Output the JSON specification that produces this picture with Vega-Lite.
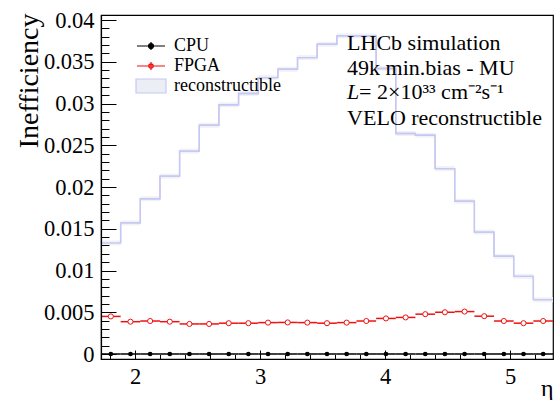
{
  "$schema": "https://vega.github.io/schema/vega-lite/v6.json",
  "width": 452,
  "height": 344,
  "autosize": {"type": "none"},
  "padding": {"left": 101, "top": 15, "right": 1, "bottom": 41},
  "background": "white",
  "config": {
    "view": {"stroke": "black", "strokeWidth": 1.2},
    "font": "Liberation Serif",
    "axis": {"labelFont": "Liberation Serif", "titleFont": "Liberation Serif", "labelColor": "black", "titleColor": "black", "titleFontWeight": "normal"},
    "legend": {"labelFont": "Liberation Serif"},
    "text": {"font": "Liberation Serif"}
  },
  "data": {"values": [
    {"lo": 1.726, "hi": 1.8833, "eta": 1.8047, "reco": 0.0133, "CPU": 0, "FPGA": 0.0045},
    {"lo": 1.8833, "hi": 2.0406, "eta": 1.962, "reco": 0.0157, "CPU": 0, "FPGA": 0.00387},
    {"lo": 2.0406, "hi": 2.1979, "eta": 2.1193, "reco": 0.0186, "CPU": 0, "FPGA": 0.00395},
    {"lo": 2.1979, "hi": 2.3552, "eta": 2.2766, "reco": 0.0213, "CPU": 0, "FPGA": 0.00387},
    {"lo": 2.3552, "hi": 2.5125, "eta": 2.4339, "reco": 0.0243, "CPU": 0, "FPGA": 0.0036},
    {"lo": 2.5125, "hi": 2.6698, "eta": 2.5912, "reco": 0.0274, "CPU": 0, "FPGA": 0.0036},
    {"lo": 2.6698, "hi": 2.8271, "eta": 2.7485, "reco": 0.02985, "CPU": 0, "FPGA": 0.00369},
    {"lo": 2.8271, "hi": 2.9844, "eta": 2.9058, "reco": 0.0312, "CPU": 0, "FPGA": 0.00369},
    {"lo": 2.9844, "hi": 3.1417, "eta": 3.0631, "reco": 0.0331, "CPU": 0, "FPGA": 0.00376},
    {"lo": 3.1417, "hi": 3.299, "eta": 3.2204, "reco": 0.0341, "CPU": 0, "FPGA": 0.00378},
    {"lo": 3.299, "hi": 3.4563, "eta": 3.3777, "reco": 0.0355, "CPU": 0, "FPGA": 0.00376},
    {"lo": 3.4563, "hi": 3.6136, "eta": 3.535, "reco": 0.0371, "CPU": 0, "FPGA": 0.00369},
    {"lo": 3.6136, "hi": 3.7709, "eta": 3.6923, "reco": 0.0381, "CPU": 0, "FPGA": 0.00376},
    {"lo": 3.7709, "hi": 3.9282, "eta": 3.8496, "reco": 0.0381, "CPU": 0, "FPGA": 0.00395},
    {"lo": 3.9282, "hi": 4.0855, "eta": 4.0069, "reco": 0.0342, "CPU": 0, "FPGA": 0.00426},
    {"lo": 4.0855, "hi": 4.2428, "eta": 4.1642, "reco": 0.0264, "CPU": 0, "FPGA": 0.00438},
    {"lo": 4.2428, "hi": 4.4001, "eta": 4.3215, "reco": 0.0262, "CPU": 0, "FPGA": 0.00477},
    {"lo": 4.4001, "hi": 4.5574, "eta": 4.4788, "reco": 0.0222, "CPU": 0, "FPGA": 0.005},
    {"lo": 4.5574, "hi": 4.7147, "eta": 4.6361, "reco": 0.0183, "CPU": 0, "FPGA": 0.00508},
    {"lo": 4.7147, "hi": 4.872, "eta": 4.7934, "reco": 0.0146, "CPU": 0, "FPGA": 0.00453},
    {"lo": 4.872, "hi": 5.0293, "eta": 4.9507, "reco": 0.0117, "CPU": 0, "FPGA": 0.00395},
    {"lo": 5.0293, "hi": 5.1866, "eta": 5.108, "reco": 0.0093, "CPU": 0, "FPGA": 0.00369},
    {"lo": 5.1866, "hi": 5.3439, "eta": 5.2653, "reco": 0.0065, "CPU": 0, "FPGA": 0.00395}
  ]},
  "resolve": {"axis": {"x": "independent", "y": "independent"}},
  "layer": [
    {
      "mark": {"type": "bar", "fill": "#f1f2f8", "strokeWidth": 0},
      "encoding": {
        "x": {"field": "lo", "type": "quantitative",
          "scale": {"domain": [1.726, 5.344], "nice": false, "zero": false},
          "axis": {"orient": "bottom", "values": [2, 3, 4, 5], "format": "d", "ticks": false, "domain": false, "grid": false,
            "labelFont": "Liberation Serif", "labelFontSize": 22.5, "labelColor": "black", "labelPadding": 6,
            "labelFlush": false, "labelOverlap": false, "labelBound": false,
            "title": "η", "titleFont": "Liberation Serif", "titleFontSize": 24, "titleFontWeight": "normal", "titleColor": "black",
            "titleAlign": "right", "titleBaseline": "alphabetic", "titleX": 452, "titleY": 36, "zindex": 1}},
        "x2": {"field": "hi"},
        "y": {"field": "reco", "type": "quantitative",
          "scale": {"domain": [0, 0.04], "nice": false, "zero": true},
          "axis": {"orient": "left", "values": [0, 0.005, 0.01, 0.015, 0.02, 0.025, 0.03, 0.035, 0.04], "format": ".3~f",
            "ticks": false, "domain": false, "grid": false,
            "labelFont": "Liberation Serif", "labelFontSize": 22.5, "labelColor": "black", "labelPadding": 7,
            "labelFlush": false, "labelOverlap": false, "labelBound": false,
            "title": "Inefficiency", "titleFont": "Liberation Serif", "titleFontSize": 28, "titleFontWeight": "normal", "titleColor": "black",
            "titleAngle": 270, "titleAlign": "right", "titleBaseline": "alphabetic", "titleX": -64, "titleY": -2, "zindex": 1}}
      }
    },
    {
      "mark": {"type": "line", "interpolate": "step-after", "color": "#c6c8f2", "strokeWidth": 1.4},
      "encoding": {
        "x": {"field": "lo", "type": "quantitative",
          "axis": {"orient": "bottom", "values": [2, 3, 4, 5], "labels": false, "domain": true, "domainColor": "black", "domainWidth": 1.2, "grid": false,
            "ticks": true, "tickSize": -9, "tickColor": "black", "tickWidth": 1, "title": null, "zindex": 1}},
        "y": {"field": "reco", "type": "quantitative",
          "axis": {"orient": "left", "values": [0, 0.005, 0.01, 0.015, 0.02, 0.025, 0.03, 0.035, 0.04], "labels": false, "domain": true, "domainColor": "black", "domainWidth": 1.2, "grid": false,
            "ticks": true, "tickSize": -15, "tickColor": "black", "tickWidth": 1, "title": null, "zindex": 1}}
      }
    },
    {
      "mark": {"type": "line", "interpolate": "step-before", "color": "#c6c8f2", "strokeWidth": 1.4},
      "encoding": {
        "x": {"field": "hi", "type": "quantitative",
          "axis": {"orient": "bottom", "values": [1.8, 2.2, 2.4, 2.6, 2.8, 3.2, 3.4, 3.6, 3.8, 4.2, 4.4, 4.6, 4.8, 5.2], "labels": false, "domain": false, "grid": false,
            "ticks": true, "tickSize": -4.5, "tickColor": "black", "tickWidth": 1, "title": null, "zindex": 1}},
        "y": {"field": "reco", "type": "quantitative",
          "axis": {"orient": "left", "values": [0.001, 0.002, 0.003, 0.004, 0.006, 0.007, 0.008, 0.009, 0.011, 0.012, 0.013, 0.014, 0.016, 0.017, 0.018, 0.019, 0.021, 0.022, 0.023, 0.024, 0.026, 0.027, 0.028, 0.029, 0.031, 0.032, 0.033, 0.034, 0.036, 0.037, 0.038, 0.039],
            "labels": false, "domain": false, "grid": false,
            "ticks": true, "tickSize": -8, "tickColor": "black", "tickWidth": 1, "title": null, "zindex": 1}}
      }
    },
    {
      "transform": [{"fold": ["CPU", "FPGA"], "as": ["series", "ineff"]}],
      "mark": {"type": "rule", "strokeWidth": 1.5},
      "encoding": {
        "x": {"field": "lo", "type": "quantitative", "axis": null},
        "x2": {"field": "hi"},
        "y": {"field": "ineff", "type": "quantitative", "axis": null},
        "color": {"field": "series", "type": "nominal",
          "scale": {"domain": ["CPU", "FPGA", "reconstructible"], "range": ["black", "#ee1111", "#c6c8f2"]},
          "legend": {"title": null, "orient": "none", "legendX": 39, "legendY": 20, "direction": "vertical",
            "symbolSize": 400, "labelFont": "Liberation Serif", "labelFontSize": 18, "labelColor": "black",
            "labelOffset": 12, "rowPadding": 0, "padding": 0, "symbolStrokeWidth": 1.2,
            "encode": {"symbols": {"update": {
              "shape": {"signal": "datum.value === 'reconstructible' ? 'M-1.5,-0.7H1.5V0.7H-1.5Z' : datum.value === 'CPU' ? 'M-1.4,0H1.4M0,-0.4V0.4M0.25,0A0.25,0.25,0,1,1,-0.25,0A0.25,0.25,0,1,1,0.25,0Z' : 'M-1.4,0H1.4M0,-0.4V0.4M0.22,0A0.22,0.22,0,1,1,-0.22,0A0.22,0.22,0,1,1,0.22,0Z'"},
              "fill": {"signal": "datum.value === 'CPU' ? 'black' : datum.value === 'FPGA' ? 'white' : '#eceef6'"},
              "stroke": {"signal": "datum.value === 'CPU' ? 'black' : datum.value === 'FPGA' ? '#ee1111' : '#c6c8f2'"},
              "strokeWidth": {"value": 1.2},
              "opacity": {"value": 1},
              "fillOpacity": {"value": 1}
            }}}}}
      }
    },
    {
      "mark": {"type": "point", "shape": "circle", "filled": true, "color": "black", "size": 22, "opacity": 1},
      "encoding": {
        "x": {"field": "eta", "type": "quantitative", "axis": null},
        "y": {"field": "CPU", "type": "quantitative", "axis": null}
      }
    },
    {
      "mark": {"type": "point", "shape": "circle", "filled": true, "fill": "white", "stroke": "#ee1111", "strokeWidth": 1, "size": 26, "opacity": 1},
      "encoding": {
        "x": {"field": "eta", "type": "quantitative", "axis": null},
        "y": {"field": "FPGA", "type": "quantitative", "axis": null}
      }
    },
    {
      "data": {"values": [{}]},
      "mark": {"type": "text", "text": ["LHCb simulation", "49k min.bias - MU"], "align": "left", "baseline": "top",
        "font": "Liberation Serif", "fontSize": 22, "lineHeight": 25, "color": "black"},
      "encoding": {
        "x": {"datum": 3.696, "type": "quantitative", "axis": null},
        "y": {"datum": 0.0385, "type": "quantitative", "axis": null}
      }
    },
    {
      "data": {"values": [{}]},
      "mark": {"type": "text", "text": "L", "align": "left", "baseline": "top", "dy": 49,
        "font": "Liberation Serif", "fontStyle": "italic", "fontSize": 22, "color": "black"},
      "encoding": {
        "x": {"datum": 3.696, "type": "quantitative", "axis": null},
        "y": {"datum": 0.0385, "type": "quantitative", "axis": null}
      }
    },
    {
      "data": {"values": [{}]},
      "mark": {"type": "text", "text": " = 2×10³³ cm⁻²s⁻¹", "align": "left", "baseline": "top", "dy": 49, "dx": 12,
        "font": "Liberation Serif", "fontSize": 22, "color": "black"},
      "encoding": {
        "x": {"datum": 3.696, "type": "quantitative", "axis": null},
        "y": {"datum": 0.0385, "type": "quantitative", "axis": null}
      }
    },
    {
      "data": {"values": [{}]},
      "mark": {"type": "text", "text": "VELO reconstructible", "align": "left", "baseline": "top", "dy": 75,
        "font": "Liberation Serif", "fontSize": 22, "color": "black"},
      "encoding": {
        "x": {"datum": 3.696, "type": "quantitative", "axis": null},
        "y": {"datum": 0.0385, "type": "quantitative", "axis": null}
      }
    }
  ]
}
